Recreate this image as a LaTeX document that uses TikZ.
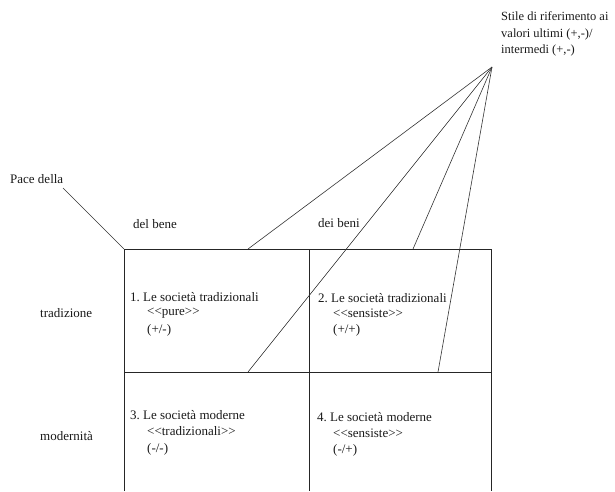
\documentclass[tikz,border=0pt]{standalone}
\usepackage{fontspec}
\setmainfont{Liberation Serif}[Ligatures=TeXOff]
\newcommand{\dlt}{\textless\kern0pt\textless}
\newcommand{\dgt}{\textgreater\kern0pt\textgreater}
\begin{document}
\frenchspacing
\begin{tikzpicture}[x=1pt,y=-1pt,
  gridline/.style={line width=0.8pt, draw=black!85},
  fanline/.style={line width=0.6pt, draw=black!80},
  lbl/.style={anchor=west, inner sep=0pt, text=black!90, font=\fontsize{13}{16}\selectfont},
  toplbl/.style={anchor=west, inner sep=0pt, text=black!90, align=left, font=\fontsize{12.5}{16.5}\selectfont}]
\useasboundingbox (0,0) rectangle (615,491);
% grid coordinates
\coordinate (TL) at (124,249);
\coordinate (TM) at (309,249);
\coordinate (TR) at (491,249);
\coordinate (ML) at (124,372);
\coordinate (MM) at (309,372);
\coordinate (MR) at (491,372);
\coordinate (BL) at (124,491);
\coordinate (BM) at (309,491);
\coordinate (BR) at (491,491);
\coordinate (apex) at (492,67);
\coordinate (pace) at (63,188);
\coordinate (e1) at (248,249);
\coordinate (e2) at (248,372);
\coordinate (e3) at (413,249);
\coordinate (e4) at (438,372);
% grid
\draw[gridline] (BL) -- (TL) -- (TR) -- (BR);
\draw[gridline] (ML) -- (MR);
\draw[gridline] (TM) -- (BM);
% fan lines
\draw[fanline] (apex) -- (e1);
\draw[fanline] (apex) -- (e2);
\draw[fanline] (apex) -- (e3);
\draw[fanline] (apex) -- (e4);
\draw[fanline] (pace) -- (TL);
% labels
\node[toplbl] (stile) at (501,34) {Stile di riferimento ai\\valori ultimi (+,-)/\\intermedi (+,-)};
\node[lbl] (pacedella) at (10,179) {Pace della};
\node[lbl] (delbene) at (133,224) {del bene};
\node[lbl] (deibeni) at (318,223) {dei beni};
\node[lbl] (trad) at (40,313) {tradizione};
\node[lbl] (mod) at (40,436) {modernità};
% cell 1
\node[lbl] (c1a) at (130,297) {1. Le società tradizionali};
\node[lbl] (c1b) at (147,313) {\dlt pure\dgt};
\node[lbl] (c1c) at (147,330) {(+/-)};
% cell 2
\node[lbl] (c2a) at (318,298) {2. Le società tradizionali};
\node[lbl] (c2b) at (333,313) {\dlt sensiste\dgt};
\node[lbl] (c2c) at (333,330) {(+/+)};
% cell 3
\node[lbl] (c3a) at (130,415) {3. Le società moderne};
\node[lbl] (c3b) at (147,431) {\dlt tradizionali\dgt};
\node[lbl] (c3c) at (147,449) {(-/-)};
% cell 4
\node[lbl] (c4a) at (317,417) {4. Le società moderne};
\node[lbl] (c4b) at (333,433) {\dlt sensiste\dgt};
\node[lbl] (c4c) at (333,450) {(-/+)};
\end{tikzpicture}
\end{document}
